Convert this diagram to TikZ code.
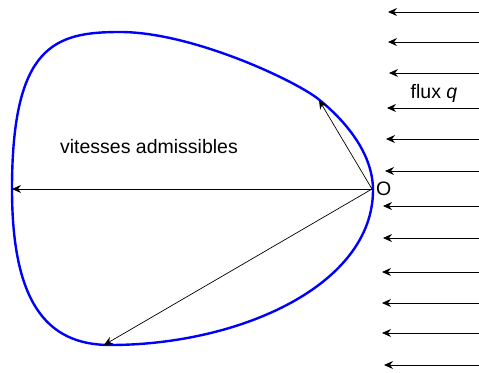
\documentclass[tikz,border=0pt]{standalone}
\usepackage{fontspec}
\setmainfont{Liberation Sans}
\usetikzlibrary{arrows.meta}
\begin{document}
\begin{tikzpicture}[x=1pt,y=-1pt,
  vec/.style={line width=0.7pt,-{Stealth[length=9pt,width=8pt,inset=3pt]}},
  fluxarrow/.style={line width=0.8pt,-{Stealth[length=9pt,width=8pt,inset=3pt]}},
  region/.style={draw={rgb,255:red,0;green,0;blue,255},line width=2.4pt},
  lbl/.style={font=\fontsize{19.5}{21}\selectfont,inner sep=0pt}]
\useasboundingbox (0,0) rectangle (479,372);
% admissible velocity region
\draw[region] (373,190) .. controls (373,150) and (340,116) .. (317,98)
  .. controls (290,78) and (190,32) .. (120,32)
  .. controls (55,32) and (12,45) .. (12,189)
  .. controls (12,300) and (45,345) .. (110,345)
  .. controls (240,345) and (373,285) .. (373,190);
\coordinate (O) at (372,189);
\coordinate (L) at (12,189);
\coordinate (U) at (319,100);
\coordinate (B) at (104,345);
\draw[vec] (O) -- (L);
\draw[vec] (O) -- (U);
\draw[vec] (O) -- (B);
\node[lbl,anchor=base west] (Olabel) at (376,195) {O};
\node[lbl,anchor=base] (vit) at (149,153) {vitesses admissibles};
\node[lbl,anchor=base] (flux) at (434,98) {flux \textit{q}};
% flux arrows
\foreach \i/\y/\xt in {1/12/388,2/42/388,3/73/389,4/108/387,5/139/386,6/171/385,7/206/383,8/238/383,9/272/382,10/303/382,11/333/382,12/365/384}{
  \coordinate (fs\i) at (480,\y);
  \coordinate (fe\i) at (\xt,\y);
  \draw[fluxarrow] (fs\i) -- (fe\i);
}
\end{tikzpicture}
\end{document}
